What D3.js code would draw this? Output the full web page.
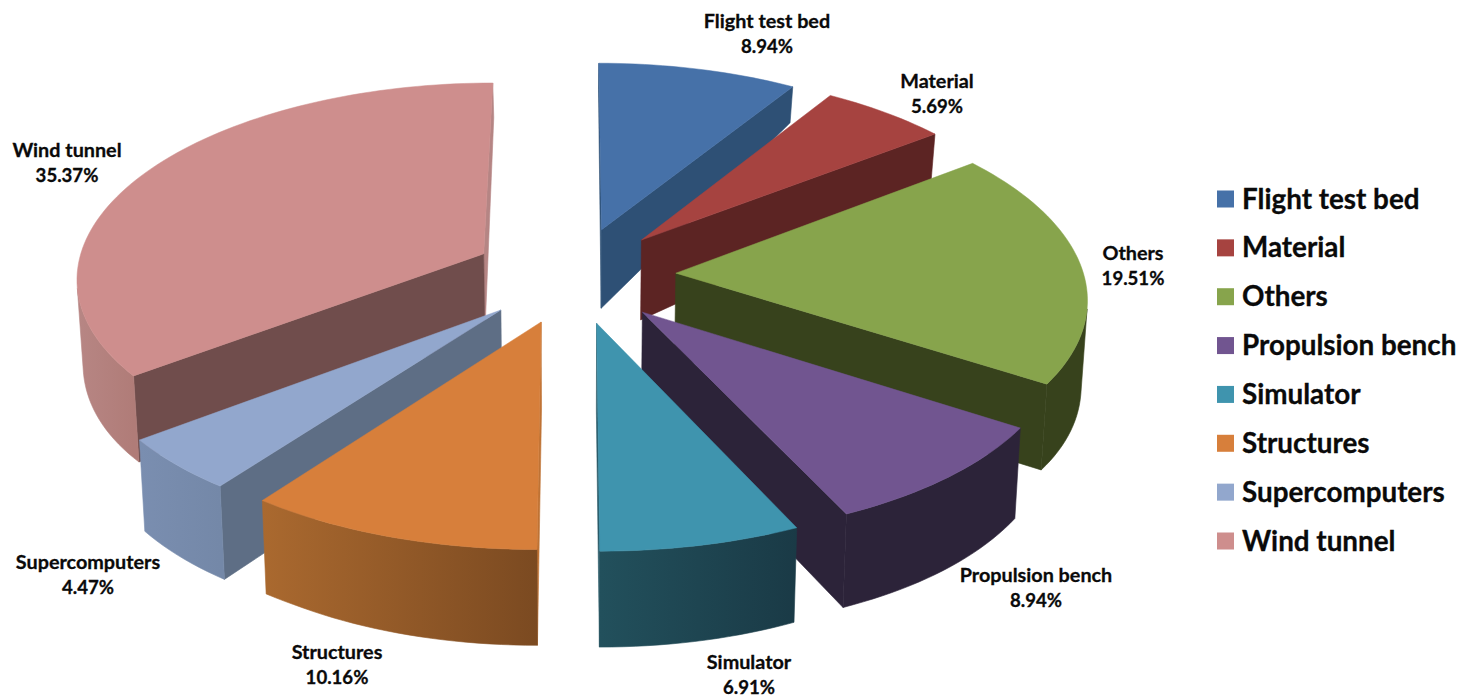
<!DOCTYPE html>
<html><head><meta charset="utf-8">
<script src="https://cdn.jsdelivr.net/npm/d3@7/dist/d3.min.js"></script>
<style>html,body{margin:0;background:#fff}svg{display:block}text{font-family:Lato,"Open Sans",sans-serif;font-weight:700;fill:#0a0a0a;stroke:#0a0a0a;stroke-width:.3px}</style>
</head><body><svg id="c" width="1461" height="696"></svg>
<script>
const categories=["Flight test bed","Material","Others","Propulsion bench","Simulator","Structures","Supercomputers","Wind tunnel"];
const shares=[8.94,5.69,19.51,8.94,6.91,10.16,4.47,35.37];
const topColors=["#4671a8","#a64340","#87a44c","#715590","#3f94ae","#d77f3b","#92a7cd","#ce8e8d"];
const endWallColors=["#2e5075","#5c2423","#37421c","#2c2339","#2a5a68","#bf7335","#5e6e85","#b58584"];
const startWallColors=["#2e5075","#5c2423","#37421c","#2c2339","#2c2339","#bf7335","#5e6e85","#704d4c"];
const rimFrom=["#2e5075","#5c2423","#37421c","#2c2339","#1a3a46","#7b4a21","#7488a8","#b07c78"];
const rimTo=["#2e5075","#5c2423","#37421c","#2c2339","#22505c","#aa692f","#7a8eb0","#b78684"];
const labelAnchors=[[767,21],[937,81],[1133,253],[1036,575],[749,662],[337,652],[88,562],[67,150]];

// projection of the tilted pie
const explode=0.25, kX=0.113, kY=0.105;
const xTop=d3.scaleLinear().domain([-1,1]).range([574-408,574+408]);
const xBot=d3.scaleLinear().domain([-1,1]).range([574-403,574+403]);
const yTop=d3.scaleLinear().domain([-1,1]).range([275+193,275-193]);
const yBot=d3.scaleLinear().domain([-1.3,-1.09,-0.534,0.232,1.2]).range([662,606,470,310,98]);
const project=(p,bottom)=>{
  const wx=1+kX*p[1], wy=1+kY*p[1];
  if(!bottom) return [xTop(p[0]/wx),yTop(p[1]/wy)];
  return [xBot(p[0]/wx),yBot(p[1])];
};
// d3.polygonArea is positive for polygons running counter-clockwise on screen
const area=pts=>d3.polygonArea(pts);

const svg=d3.select("#c");
const defs=svg.append("defs");
const line=d3.line();
const arcs=d3.pie().sort(null).value(d=>d)(shares);
const slices=arcs.map((d,i)=>{
  const mid=(d.startAngle+d.endAngle)/2;
  return {...d,i,ox:explode*Math.sin(mid),oy:explode*Math.cos(mid)};
}).sort((a,b)=>b.oy-a.oy);

const chart=svg.append("g");
slices.forEach(s=>{
  const g=chart.append("g").attr("class","slice");
  const rim=a=>[s.ox+Math.sin(a),s.oy+Math.cos(a)];
  const apex=[s.ox,s.oy];
  const n=Math.max(2,Math.ceil((s.endAngle-s.startAngle)/(Math.PI/120)));
  const angles=d3.range(n+1).map(j=>s.startAngle+(s.endAngle-s.startAngle)*j/n);
  const quad=(pts,c)=>g.append("path").attr("d",line(pts)+"Z").attr("fill",c).attr("stroke",c).attr("stroke-width",0.6);
  const wall=(a,sign,c)=>{
    const pts=[project(apex),project(rim(a)),project(rim(a),true),project(apex,true)];
    if(sign*area(pts)<0) quad(pts,c);
  };
  wall(s.endAngle,1,endWallColors[s.i]);
  wall(s.startAngle,-1,startWallColors[s.i]);
  // outer curved wall: the run of rim segments that face the viewer, with one gradient
  const visible=[];
  for(let j=0;j<n;j++){
    const a0=angles[j],a1=angles[j+1];
    const pts=[project(rim(a0)),project(rim(a1)),project(rim(a1),true),project(rim(a0),true)];
    if(area(pts)>0){ if(!visible.length) visible.push(a0); visible.push(a1); }
  }
  if(visible.length){
    const id="rim"+s.i;
    const grad=defs.append("linearGradient").attr("id",id).attr("gradientUnits","userSpaceOnUse")
      .attr("x1",project(rim(visible[0]))[0]).attr("y1",0)
      .attr("x2",project(rim(visible[visible.length-1]))[0]).attr("y2",0);
    grad.append("stop").attr("offset",0).attr("stop-color",rimFrom[s.i]);
    grad.append("stop").attr("offset",1).attr("stop-color",rimTo[s.i]);
    const poly=[...visible.map(a=>project(rim(a))),...visible.slice().reverse().map(a=>project(rim(a),true))];
    g.append("path").attr("d",line(poly)+"Z").attr("fill",`url(#${id})`).attr("stroke",`url(#${id})`).attr("stroke-width",0.6);
  }
  const top=[project(apex),...angles.map(a=>project(rim(a)))];
  g.append("path").attr("d",line(top)+"Z").attr("fill",topColors[s.i]).attr("stroke",topColors[s.i]).attr("stroke-width",0.5);
});

// data labels
const labels=svg.append("g").attr("text-anchor","middle");
categories.forEach((c,i)=>{
  const t=labels.append("text").attr("x",labelAnchors[i][0]).attr("y",labelAnchors[i][1]+7);
  t.append("tspan").style("font-size","19.8px").text(c);
  t.append("tspan").style("font-size","18.6px").attr("x",labelAnchors[i][0]).attr("dy",25).text(d3.format(".2f")(shares[i])+"%");
});

// legend
const legendY=d3.scalePoint().domain(categories).range([199,541]);
const legend=svg.append("g").selectAll("g").data(categories).join("g").attr("transform",d=>`translate(0,${legendY(d)})`);
legend.append("rect").attr("x",1217).attr("y",-8.5).attr("width",17).attr("height",17).attr("fill",(d,i)=>topColors[i]).attr("stroke","none");
legend.append("text").attr("x",1242).attr("y",9.5).style("font-size","27.8px").text(d=>d);
</script></body></html>
